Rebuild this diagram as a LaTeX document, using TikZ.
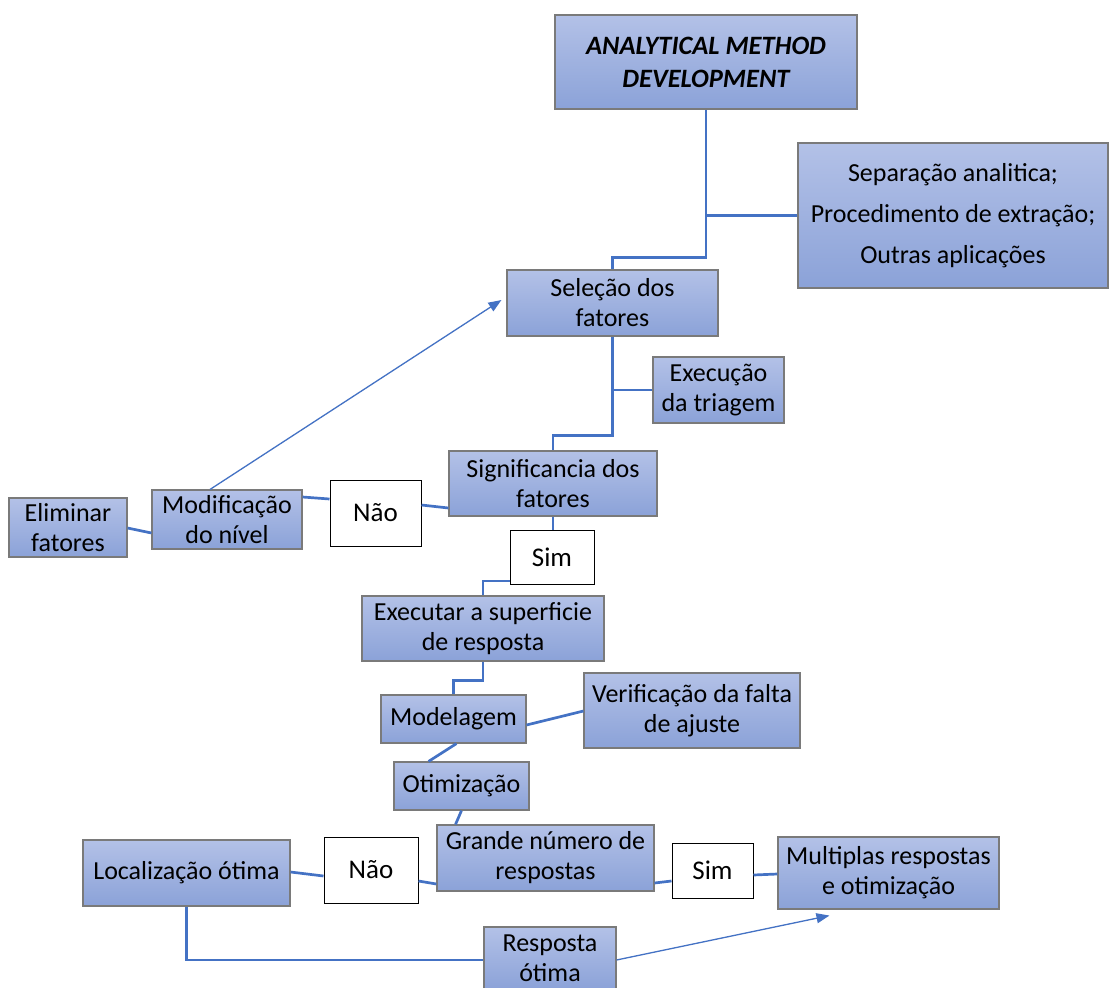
\documentclass[tikz,border=0pt]{standalone}
\usepackage{fontspec}
\setmainfont{Carlito}
\usetikzlibrary{arrows.meta,calc}
\definecolor{lineblue}{HTML}{4472C4}
\definecolor{boxtop}{HTML}{B3C1E7}
\definecolor{boxbot}{HTML}{8BA2D8}
\definecolor{boxedge}{HTML}{7A7A7A}
\tikzset{
  box/.style={draw=boxedge, line width=1.1pt, top color=boxtop, bottom color=boxbot,
    inner sep=0pt, align=center, font=\fontsize{26}{30}\selectfont},
  wbox/.style={draw=black, line width=1pt, fill=white, inner sep=0pt, align=center,
    font=\fontsize{27}{30}\selectfont},
  conn/.style={draw=lineblue, line width=2.7pt},
  thinarrow/.style={draw=lineblue, line width=1.3pt, -{Triangle[length=13pt,width=10pt]}, fill=lineblue}
}
\begin{document}
\begin{tikzpicture}[x=1pt,y=-1pt]
\useasboundingbox (0,0) rectangle (1109,988);

\node[box, minimum width=302pt, minimum height=94pt, font=\fontsize{26.5}{33}\selectfont\bfseries\itshape] (amd) at (706,62) {ANALYTICAL METHOD\\DEVELOPMENT};
\node[box, minimum width=310pt, minimum height=145pt, font=\fontsize{26}{41}\selectfont] (sep) at (953,215.5) {Separação analitica;\\Procedimento de extração;\\Outras aplicações};
\node[box, minimum width=211pt, minimum height=66pt] (sel) at (612.5,303) {Seleção dos\\fatores};
\node[box, minimum width=131pt, minimum height=66pt] (exe) at (718.5,390) {Execução\\da triagem};
\node[box, minimum width=208pt, minimum height=65pt] (sig) at (553,483.5) {Significancia dos\\fatores};
\node[wbox, minimum width=91pt, minimum height=66pt] (nao1) at (375.5,513) {Não};
\node[box, minimum width=150pt, minimum height=59pt] (mod) at (227,519.5) {Modificação\\do nível};
\node[box, minimum width=118pt, minimum height=59pt] (eli) at (68,527.5) {Eliminar\\fatores};
\node[wbox, minimum width=84pt, minimum height=54pt] (sim1) at (552,557) {Sim};
\node[box, minimum width=242pt, minimum height=65pt] (exr) at (483,628.5) {Executar a superficie\\de resposta};
\node[box, minimum width=145pt, minimum height=48pt] (mdl) at (453.5,719) {Modelagem};
\node[box, minimum width=216pt, minimum height=75pt] (ver) at (692,710.5) {Verificação da falta\\de ajuste};
\node[box, minimum width=135pt, minimum height=48pt] (oti) at (461.5,786) {Otimização};
\node[box, minimum width=217pt, minimum height=66pt] (gra) at (545.5,858) {Grande número de\\respostas};
\node[wbox, minimum width=94pt, minimum height=66pt] (nao2) at (371,870) {Não};
\node[box, minimum width=207pt, minimum height=66pt] (loc) at (186.5,873) {Localização ótima};
\node[wbox, minimum width=81pt, minimum height=55pt] (sim2) at (712.5,870.5) {Sim};
\node[box, minimum width=221pt, minimum height=72pt] (mul) at (888.5,873) {Multiplas respostas\\e otimização};
\node[box, minimum width=132pt, minimum height=63pt] (res) at (550,958.5) {Resposta\\ótima};

\coordinate (tipA) at ($(sel.west)+(-5,-3)$);
\coordinate (tipB) at ($(mul.south west)+(52,6)$);

\draw[conn] (amd.south) |- ($(sel.north)+(0,-12)$) -| (sel.north);
\draw[conn] (sep.west) -- (sep.west -| amd.south);
\draw[conn] (sel.south) |- ($(sig.north)+(0,-15)$) -| (sig.north);
\draw[conn] (exe.west) -- (exe.west -| sel.south);
\draw[conn] (sig.south) -- (sig.south |- sim1.north);
\draw[conn] ($(nao1.east)+(0,-8)$) -- ($(sig.west)+(0,24.5)$);
\draw[conn] ($(mod.east)+(0,-22.5)$) -- ($(nao1.west)+(0,-14)$);
\draw[conn] ($(eli.east)+(0,0.5)$) -- ($(mod.west)+(0,13.5)$);
\draw[conn] ($(sim1.west)+(0,24)$) -| (exr.north);
\draw[conn] (exr.south) |- ($(mdl.north)+(0,-14)$) -| (mdl.north);
\draw[conn] ($(mdl.east)+(0,6)$) -- ($(ver.west)+(0,0.5)$);
\draw[conn] ($(mdl.south)+(3,0)$) -- ($(oti.north)+(-33,0)$);
\draw[conn] (oti.south) -- ($(gra.north)+(-90,0)$);
\draw[conn] ($(gra.west)+(0,26)$) -- ($(nao2.east)+(0,11)$);
\draw[conn] ($(loc.east)+(0,-1)$) -- ($(nao2.west)+(0,6)$);
\draw[conn] ($(gra.east)+(0,25)$) -- ($(sim2.west)+(0,10.5)$);
\draw[conn] ($(sim2.east)+(0,4.5)$) -- ($(mul.west)+(0,1)$);
\draw[conn] (loc.south) |- ($(res.west)+(0,1.5)$);
\draw[thinarrow] ($(mod.north)+(-17,0)$) -- (tipA);
\draw[thinarrow] ($(res.east)+(0,1.5)$) -- (tipB);
\end{tikzpicture}
\end{document}
